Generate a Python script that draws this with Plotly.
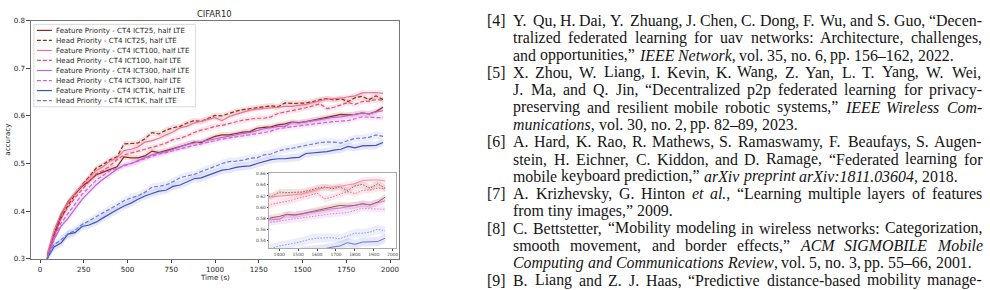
import plotly.graph_objects as go

W, H = 990, 290

# ---------------- data ----------------
time_s = [40, 80, 120, 160, 200, 240, 280, 320, 360, 400, 440, 480, 520, 560, 600, 640,
          680, 720, 760, 800, 840, 880, 920, 960, 1000, 1040, 1080, 1120, 1160, 1200, 1240,
          1280, 1320, 1360, 1400, 1440, 1480, 1520, 1560, 1600, 1640, 1680, 1720, 1760, 1800,
          1840, 1880, 1920, 1960]

fp25 = [0.300, 0.352, 0.392, 0.420, 0.437, 0.452, 0.463, 0.476, 0.482, 0.488, 0.493, 0.514,
        0.512, 0.512, 0.516, 0.526, 0.523, 0.527, 0.531, 0.535, 0.540, 0.545, 0.544, 0.551,
        0.557, 0.560, 0.560, 0.563, 0.566, 0.567, 0.574, 0.576, 0.577, 0.581, 0.583, 0.587,
        0.586, 0.588, 0.591, 0.594, 0.597, 0.599, 0.603, 0.602, 0.603, 0.606, 0.604, 0.609, 0.618]
hp25 = [0.298, 0.345, 0.385, 0.412, 0.435, 0.455, 0.472, 0.490, 0.498, 0.508, 0.514, 0.541,
        0.542, 0.543, 0.552, 0.565, 0.562, 0.570, 0.575, 0.578, 0.585, 0.590, 0.588, 0.594,
        0.601, 0.600, 0.605, 0.610, 0.613, 0.615, 0.617, 0.620, 0.621, 0.619, 0.627, 0.626,
        0.627, 0.627, 0.630, 0.634, 0.636, 0.633, 0.636, 0.630, 0.638, 0.641, 0.634, 0.642, 0.634]
fp100 = [0.310, 0.360, 0.395, 0.418, 0.438, 0.455, 0.470, 0.485, 0.493, 0.505, 0.512, 0.527,
         0.530, 0.535, 0.545, 0.548, 0.553, 0.560, 0.566, 0.575, 0.578, 0.585, 0.589, 0.592,
         0.596, 0.590, 0.598, 0.603, 0.607, 0.612, 0.614, 0.616, 0.617, 0.618, 0.620, 0.620,
         0.622, 0.624, 0.628, 0.632, 0.635, 0.636, 0.637, 0.640, 0.642, 0.648, 0.649, 0.649, 0.647]
hp100 = [0.305, 0.350, 0.385, 0.408, 0.428, 0.446, 0.462, 0.478, 0.485, 0.495, 0.508, 0.518,
         0.522, 0.525, 0.530, 0.534, 0.538, 0.543, 0.550, 0.553, 0.558, 0.565, 0.570, 0.573,
         0.578, 0.580, 0.584, 0.588, 0.591, 0.593, 0.595, 0.595, 0.598, 0.605, 0.608, 0.610,
         0.614, 0.617, 0.621, 0.625, 0.615, 0.618, 0.623, 0.628, 0.624, 0.630, 0.631, 0.634, 0.633]
fp300 = [0.300, 0.340, 0.368, 0.385, 0.405, 0.425, 0.440, 0.455, 0.467, 0.478, 0.488, 0.497,
         0.500, 0.506, 0.512, 0.518, 0.522, 0.525, 0.530, 0.535, 0.540, 0.543, 0.546, 0.548,
         0.552, 0.555, 0.558, 0.561, 0.563, 0.565, 0.569, 0.573, 0.575, 0.578, 0.578, 0.586,
         0.585, 0.588, 0.590, 0.592, 0.595, 0.597, 0.598, 0.600, 0.603, 0.606, 0.604, 0.608, 0.611]
hp300 = [0.300, 0.345, 0.375, 0.395, 0.415, 0.435, 0.450, 0.465, 0.475, 0.485, 0.490, 0.495,
         0.500, 0.504, 0.510, 0.515, 0.520, 0.523, 0.527, 0.531, 0.535, 0.538, 0.541, 0.545,
         0.548, 0.551, 0.554, 0.556, 0.558, 0.560, 0.562, 0.565, 0.568, 0.573, 0.575, 0.577,
         0.579, 0.580, 0.582, 0.585, 0.586, 0.588, 0.589, 0.590, 0.594, 0.598, 0.597, 0.596, 0.596]
fp1k = [0.300, 0.325, 0.333, 0.352, 0.355, 0.368, 0.371, 0.377, 0.386, 0.395, 0.403, 0.411,
        0.417, 0.425, 0.432, 0.437, 0.442, 0.444, 0.452, 0.455, 0.462, 0.468, 0.470, 0.475,
        0.481, 0.486, 0.488, 0.492, 0.494, 0.495, 0.500, 0.504, 0.508, 0.510, 0.510, 0.512,
        0.513, 0.521, 0.522, 0.524, 0.525, 0.528, 0.530, 0.536, 0.533, 0.537, 0.537, 0.538, 0.544]
hp1k = [0.300, 0.330, 0.340, 0.352, 0.360, 0.372, 0.380, 0.388, 0.397, 0.405, 0.413, 0.422,
        0.428, 0.432, 0.440, 0.450, 0.453, 0.455, 0.462, 0.470, 0.474, 0.477, 0.483, 0.488,
        0.494, 0.500, 0.504, 0.505, 0.507, 0.511, 0.512, 0.518, 0.520, 0.526, 0.530, 0.532,
        0.535, 0.538, 0.542, 0.544, 0.545, 0.545, 0.543, 0.548, 0.553, 0.553, 0.555, 0.560, 0.557]

series_names = ["Feature Priority - CT4 ICT25, half LTE", "Head Priority - CT4 ICT25, half LTE",
                "Feature Priority - CT4 ICT100, half LTE", "Head Priority - CT4 ICT100, half LTE",
                "Feature Priority - CT4 ICT300, half LTE", "Head Priority - CT4 ICT300, half LTE",
                "Feature Priority - CT4 ICT1K, half LTE", "Head Priority - CT4 ICT1K, half LTE"]
series_values = [fp25, hp25, fp100, hp100, fp300, hp300, fp1k, hp1k]
series_spread = [0.006, 0.006, 0.006, 0.006, 0.006, 0.006, 0.008, 0.008]

x_ticks = [0, 250, 500, 750, 1000, 1250, 1500, 1750, 2000]
y_ticks = [0.3, 0.4, 0.5, 0.6, 0.7, 0.8]
inset_x_ticks = [1400, 1500, 1600, 1700, 1800, 1900, 2000]
inset_y_ticks = [0.54, 0.56, 0.58, 0.60, 0.62, 0.64, 0.66]

# ---------------- styles ----------------
colors = ["#8e2a17", "#8e2a17", "#f2708f", "#ea4a73", "#c262d6", "#cf5fdf", "#3f50c2", "#6b7bd8"]
dashes_main = ["solid", "4px,2px"] * 4
dashes_inset = ["solid", "1.5px,1.5px"] * 4
CHART_FONT = "DejaVu Sans"


def rgba(hex_color, a):
    h = hex_color.lstrip("#")
    return "rgba(%d,%d,%d,%.3f)" % (int(h[0:2], 16), int(h[2:4], 16), int(h[4:6], 16), a)


def px(x):
    return x / W


def py(y):
    return 1 - y / H


MAIN_X = (31, 400)
MAIN_Y = (16, 262)
INS_X = (270, 397)
INS_Y = (173, 251)

fig = go.Figure()

for ax, lw, dash_list in (("", 1.2, dashes_main), ("2", 0.75, dashes_inset)):
    for vals, col, sd in zip(series_values, colors, series_spread):
        hi = [v + sd for v in vals]
        lo = [v - sd for v in vals]
        fig.add_trace(go.Scatter(x=time_s + time_s[::-1], y=hi + lo[::-1], fill="toself",
                                 fillcolor=rgba(col, 0.13), line=dict(width=0), mode="lines",
                                 xaxis="x" + ax, yaxis="y" + ax, showlegend=False, hoverinfo="skip"))
    for vals, col, dsh in zip(series_values, colors, dash_list):
        fig.add_trace(go.Scatter(x=time_s, y=vals, mode="lines",
                                 line=dict(color=col, width=lw, dash=dsh),
                                 xaxis="x" + ax, yaxis="y" + ax, showlegend=False))

axis_common = dict(showgrid=False, zeroline=False, showline=True, mirror=True,
                   ticks="outside", tickcolor="#444")

fig.update_layout(
    width=W, height=H, margin=dict(l=0, r=0, t=0, b=0),
    paper_bgcolor="white", plot_bgcolor="white", showlegend=False,
    xaxis=dict(domain=[px(MAIN_X[0]), px(MAIN_X[1])], range=[-52, 2050], tickvals=x_ticks,
               ticklen=3.5, tickwidth=0.8, linecolor="#777", linewidth=0.9,
               tickfont=dict(family=CHART_FONT, size=7.1, color="#262626"), **axis_common),
    yaxis=dict(domain=[py(MAIN_Y[1]), py(MAIN_Y[0])], range=[0.3, 0.8], tickvals=y_ticks,
               tickformat=".1f", ticklen=3.5, tickwidth=0.8, linecolor="#777", linewidth=0.9,
               tickfont=dict(family=CHART_FONT, size=7.1, color="#262626"), **axis_common),
    xaxis2=dict(domain=[px(INS_X[0]), px(INS_X[1])], range=[1347, 2016], tickvals=inset_x_ticks,
                ticklen=1.5, tickwidth=0.5, linecolor="#aaa", linewidth=0.8, anchor="y2",
                tickfont=dict(family=CHART_FONT, size=4.4, color="#444"), **axis_common),
    yaxis2=dict(domain=[py(INS_Y[1]), py(INS_Y[0])], range=[0.526, 0.662], tickvals=inset_y_ticks,
                tickformat=".2f", ticklen=1.5, tickwidth=0.5, linecolor="#aaa", linewidth=0.8,
                anchor="x2", tickfont=dict(family=CHART_FONT, size=4.4, color="#444"), **axis_common),
)

shapes = []
# white background for the inset (drawn under the inset traces, over the main ones)
shapes.append(dict(type="rect", xref="x2", yref="y2", x0=1347, x1=2016, y0=0.526, y1=0.662,
                   fillcolor="white", line=dict(width=0), layer="below"))

# legend box
LEG = dict(x0=34, x1=196, y0=20, y1=105)
shapes.append(dict(type="rect", xref="paper", yref="paper", x0=px(LEG["x0"]), x1=px(LEG["x1"]),
                   y0=py(LEG["y1"]), y1=py(LEG["y0"]), fillcolor="rgba(255,255,255,0.85)",
                   line=dict(color="#d0d0d0", width=0.8), layer="above"))
annotations = []
for i, (name, col, dsh) in enumerate(zip(series_names, colors, dashes_main)):
    yy = 26.2 + 10.35 * i
    shapes.append(dict(type="line", xref="paper", yref="paper", x0=px(37), x1=px(52),
                       y0=py(yy), y1=py(yy), line=dict(color=col, width=1.2, dash=dsh),
                       layer="above"))
    annotations.append(dict(xref="paper", yref="paper", x=px(56.5), y=py(yy), text=name,
                            showarrow=False, xanchor="left", yanchor="middle",
                            font=dict(family=CHART_FONT, size=7.05, color="#262626"),
                            borderpad=0, borderwidth=0))

# titles
annotations.append(dict(xref="paper", yref="paper", x=px(215.5), y=py(9), text="CIFAR10",
                        showarrow=False, xanchor="center", yanchor="middle",
                        font=dict(family=CHART_FONT, size=8.4, color="#262626"),
                        borderpad=0, borderwidth=0))
annotations.append(dict(xref="paper", yref="paper", x=px(215.5), y=py(281), text="Time (s)",
                        showarrow=False, xanchor="center", yanchor="middle",
                        font=dict(family=CHART_FONT, size=7.1, color="#262626"),
                        borderpad=0, borderwidth=0))
annotations.append(dict(xref="paper", yref="paper", x=px(8), y=py(139), text="accuracy",
                        showarrow=False, xanchor="center", yanchor="middle", textangle=-90,
                        font=dict(family=CHART_FONT, size=7.1, color="#262626"),
                        borderpad=0, borderwidth=0))

# ---------------- reference text on the right ----------------
ref_lines = [
    ("[4]", "Y. Qu, H. Dai, Y. Zhuang, J. Chen, C. Dong, F. Wu, and S. Guo, “Decen-", True),
    ("", "tralized federated learning for uav networks: Architecture, challenges,", True),
    ("", "and opportunities,” <i>IEEE Network</i>, vol. 35, no. 6, pp. 156–162, 2022.", False),
    ("[5]", "X. Zhou, W. Liang, I. Kevin, K. Wang, Z. Yan, L. T. Yang, W. Wei,", True),
    ("", "J. Ma, and Q. Jin, “Decentralized p2p federated learning for privacy-", True),
    ("", "preserving and resilient mobile robotic systems,” <i>IEEE Wireless Com-</i>", True),
    ("", "<i>munications</i>, vol. 30, no. 2, pp. 82–89, 2023.", False),
    ("[6]", "A. Hard, K. Rao, R. Mathews, S. Ramaswamy, F. Beaufays, S. Augen-", True),
    ("", "stein, H. Eichner, C. Kiddon, and D. Ramage, “Federated learning for", True),
    ("", "mobile keyboard prediction,” <i>arXiv preprint arXiv:1811.03604</i>, 2018.", False),
    ("[7]", "A. Krizhevsky, G. Hinton <i>et al.</i>, “Learning multiple layers of features", True),
    ("", "from tiny images,” 2009.", False),
    ("[8]", "C. Bettstetter, “Mobility modeling in wireless networks: Categorization,", True),
    ("", "smooth movement, and border effects,” <i>ACM SIGMOBILE Mobile</i>", True),
    ("", "<i>Computing and Communications Review</i>, vol. 5, no. 3, pp. 55–66, 2001.", False),
    ("[9]", "B. Liang and Z. J. Haas, “Predictive distance-based mobility manage-", True),
]

UP = "ABCDEFGHIJKLMNOPQRSTUVWXYZ"
LO = "abcdefghijklmnopqrstuvwxyz"
R_UP = [722, 667, 667, 722, 611, 556, 722, 722, 333, 389, 722, 611, 889, 722, 722, 556, 722, 667,
        556, 611, 722, 722, 944, 722, 722, 611]
R_LO = [444, 500, 444, 500, 444, 333, 500, 500, 278, 278, 500, 278, 778, 500, 500, 500, 500, 333,
        389, 278, 500, 500, 722, 500, 500, 444]
I_UP = [611, 611, 667, 722, 611, 611, 722, 722, 333, 444, 667, 556, 833, 667, 722, 611, 722, 611,
        500, 556, 722, 611, 833, 611, 556, 556]
I_LO = [500, 500, 444, 500, 444, 278, 500, 500, 278, 278, 444, 278, 722, 500, 500, 500, 500, 389,
        389, 278, 500, 444, 667, 444, 444, 389]
PUNCT = {",": 250, ".": 250, ":": 278, "-": 333, "–": 500, "“": 444, "”": 444, "[": 333, "]": 333}


def cw(c, ital):
    if c in UP:
        return (I_UP if ital else R_UP)[UP.index(c)]
    if c in LO:
        return (I_LO if ital else R_LO)[LO.index(c)]
    if c.isdigit():
        return 500
    if c == ":" and ital:
        return 333
    return PUNCT.get(c, 500)


def parse(line):
    words, cur, ital, i = [], [], False, 0
    while i < len(line):
        if line.startswith("<i>", i):
            ital, i = True, i + 3
            continue
        if line.startswith("</i>", i):
            ital, i = False, i + 4
            continue
        c = line[i]
        if c == " ":
            if cur:
                words.append(cur)
                cur = []
        else:
            cur.append((c, ital))
        i += 1
    if cur:
        words.append(cur)
    return words


def to_html(word):
    out, state = "", False
    for c, it in word:
        if it != state:
            out += "<i>" if it else "</i>"
            state = it
        out += c
    if state:
        out += "</i>"
    return out


FS = 15.9
TXT_L, TXT_R = 515.0, 985.0
LABEL_R = 507.5
LINE0, LEAD = 16.0, 17.87
TEXT_FONT = dict(family="Liberation Serif", size=FS, color="#141414")

for li, (label, line, justify) in enumerate(ref_lines):
    yy = LINE0 + LEAD * li
    if label:
        annotations.append(dict(xref="paper", yref="paper", x=px(LABEL_R), y=py(yy), text=label,
                                showarrow=False, xanchor="right", yanchor="middle",
                                font=TEXT_FONT, borderpad=0, borderwidth=0))
    words = parse(line)
    widths = [sum(cw(c, it) for c, it in w) * FS / 1000.0 for w in words]
    if justify and len(words) > 1:
        gap = (TXT_R - TXT_L - sum(widths)) / (len(words) - 1)
    else:
        gap = 250 * FS / 1000.0
    xx = TXT_L
    for w, wd in zip(words, widths):
        annotations.append(dict(xref="paper", yref="paper", x=px(xx), y=py(yy), text=to_html(w),
                                showarrow=False, xanchor="left", yanchor="middle",
                                font=TEXT_FONT, borderpad=0, borderwidth=0))
        xx += wd + gap

fig.update_layout(shapes=shapes, annotations=annotations)
fig.write_html("out.html")
